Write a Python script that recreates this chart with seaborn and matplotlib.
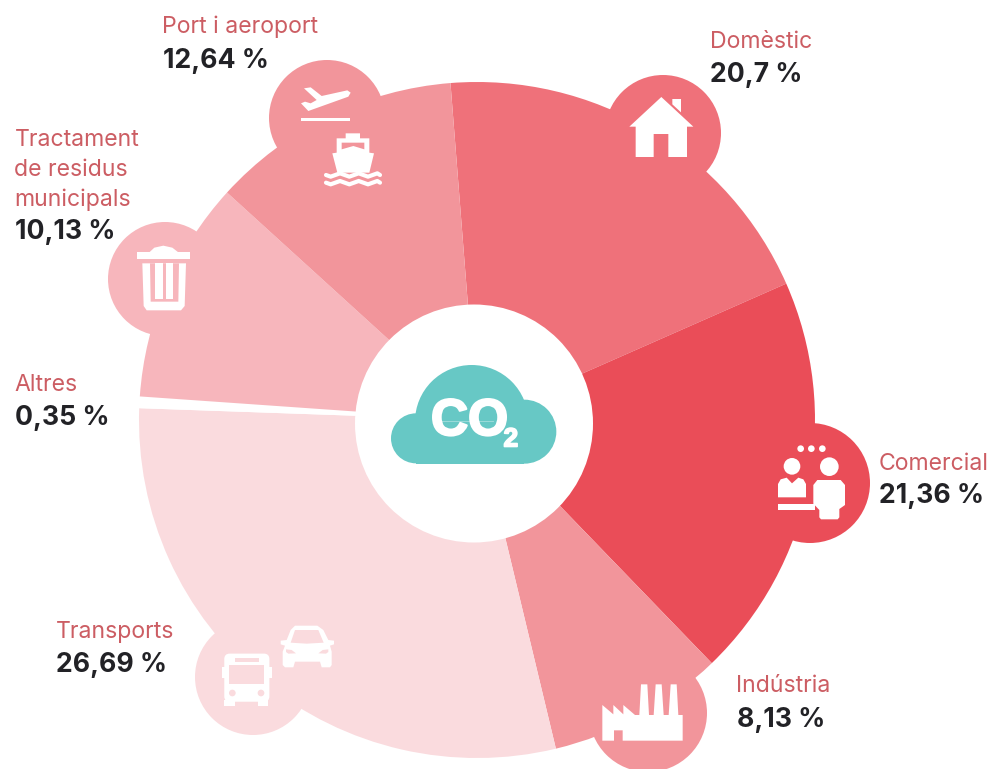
import matplotlib.patheffects as pe
import matplotlib.pyplot as plt
import seaborn as sns
from matplotlib.patches import Circle, FancyBboxPatch, Polygon, Wedge

# Data
categories = ["Domèstic", "Comercial", "Indústria", "Transports", "Altres", "Tractament\nde residus\nmunicipals", "Port i aeroport"]
printed_values = ["20,7 %", "21,36 %", "8,13 %", "26,69 %", "0,35 %", "10,13 %", "12,64 %"]
# the slices are not drawn to scale in the original, so these are the measured spans
slice_degrees = [70.7, 69.8, 30.5, 105.5, 2, 38.3, 43.2]
slice_colors = ["#EF717A", "#EA4D58", "#F2959B", "#FADBDE", "#FFFFFF", "#F7B6BC", "#F2959B"]

sns.set_theme(style="white")
plt.rcParams["font.family"] = ["Inter", "DejaVu Sans"]

W, H = 990, 769
fig = plt.figure(figsize=(W / 100, H / 100), dpi=100, facecolor="white")

# Pie
ax = fig.add_axes([0, 0, 1, 1])
ax.pie(
    slice_degrees,
    colors=sns.color_palette(slice_colors),
    startangle=94.5,
    counterclock=False,
    center=(477, H - 420),
    radius=338,
    wedgeprops={"linewidth": 0},
)
ax.set_xlim(0, W)
ax.set_ylim(0, H)
ax.axis("off")

# Overlay in image pixels, y going down
ov = fig.add_axes([0, 0, 1, 1], facecolor="none")
ov.set_xlim(0, W)
ov.set_ylim(H, 0)
ov.axis("off")


def poly(points, ox, oy, color="white", z=4):
    # points measured on a 3x crop with origin ox, oy
    ov.add_patch(Polygon([(ox + x / 3, oy + y / 3) for x, y in points], closed=True, fc=color, ec="none", zorder=z))


def rect(x0, y0, x1, y1, ox, oy, color="white", z=4):
    poly([(x0, y0), (x1, y0), (x1, y1), (x0, y1)], ox, oy, color, z)


def dot(x, y, r, ox, oy, color="white", z=4):
    ov.add_patch(Circle((ox + x / 3, oy + y / 3), r / 3, fc=color, ec="none", zorder=z))


# Icon bubbles
bubbles = [(663, 133, 58, 0), (810, 483, 60, 1), (648, 713, 59, 2), (253, 677, 58, 3), (165, 279, 57, 5), (327, 118, 58, 6)]
for bx, by, br, idx in bubbles:
    ov.add_patch(Circle((bx, by), br, fc=slice_colors[idx], ec="none", zorder=1))

# Centre
ov.add_patch(Circle((474, 423.5), 119, fc="white", ec="none", zorder=2))

# Cloud
teal = "#67C8C5"
cx, cy = 340, 300
dot(228, 415, 75, cx, cy, teal, 3)
dot(553, 395, 96, cx, cy, teal, 3)
ov.add_patch(Wedge((cx + 395 / 3, cy + 365 / 3), 170 / 3, 180, 360, fc=teal, ec="none", zorder=3))
rect(228, 365, 553, 491, cx, cy, teal, 3)
heavy = [pe.withStroke(linewidth=1.6, foreground="white")]
ov.text(431, 435, "CO", color="white", fontsize=37, fontweight="bold", family="Liberation Sans", va="baseline", ha="left", zorder=5, path_effects=heavy)
ov.text(503.5, 446.5, "2", color="white", fontsize=19, fontweight="bold", family="Liberation Sans", va="baseline", ha="left", zorder=6, path_effects=[pe.withStroke(linewidth=1.2, foreground="white")])

# House
ox, oy = 590, 60
poly([(118, 200), (214, 111), (310, 200), (291, 200), (291, 291), (235, 291), (235, 222), (191, 222), (191, 291), (137, 291), (137, 200)], ox, oy)
poly([(247, 117), (273, 117), (273, 157), (247, 133)], ox, oy)

# Meeting people
ox, oy = 740, 410
for x in (182, 214, 247):
    dot(x, 116, 10, ox, oy)
dot(156, 169, 25, ox, oy)
dot(268, 170, 28, ox, oy)
poly([(114, 262), (114, 222), (122, 208), (140, 203), (156, 220), (175, 203), (190, 208), (198, 222), (198, 262)], ox, oy)
rect(115, 281, 225, 301, ox, oy)
poly([(220, 225), (232, 210), (302, 210), (315, 225), (315, 285), (298, 297), (298, 322), (293, 328), (243, 328), (238, 322), (238, 300), (220, 281)], ox, oy)

# Factory
ox, oy = 570, 650
poly([(97, 272), (97, 165), (130, 193), (130, 165), (160, 193), (160, 165), (195, 195), (338, 195), (338, 272), (158, 272), (158, 241), (132, 241), (132, 272)], ox, oy)
poly([(213, 103), (232, 103), (237, 195), (208, 195)], ox, oy)
poly([(257, 103), (275, 103), (281, 195), (251, 195)], ox, oy)
poly([(302, 103), (320, 103), (325, 195), (296, 195)], ox, oy)

# Bus
ox, oy = 180, 610
pink = slice_colors[3]
ov.add_patch(FancyBboxPatch((ox + 137 / 3, oy + 135 / 3), 127 / 3, 136 / 3, boxstyle="round,pad=0,rounding_size=4", fc="white", ec="white", lw=2, zorder=4))
rect(126, 170, 136, 205, ox, oy)
rect(266, 170, 275, 205, ox, oy)
rect(133, 270, 165, 289, ox, oy)
rect(235, 270, 265, 289, ox, oy)
rect(148, 165, 253, 222, ox, oy, pink, 5)
rect(165, 143, 238, 155, ox, oy, pink, 5)
dot(157, 249, 10, ox, oy, pink, 5)
dot(243, 249, 10, ox, oy, pink, 5)

# Car
poly([(345, 47), (412, 47), (430, 60), (445, 90), (462, 92), (462, 103), (450, 107), (455, 125), (455, 165), (450, 172), (425, 172), (420, 155), (345, 155), (340, 172), (315, 172), (308, 165), (308, 125), (315, 107), (302, 103), (302, 92), (320, 90), (332, 60)], ox, oy)
poly([(345, 60), (415, 60), (431, 98), (380, 101), (332, 98)], ox, oy, pink, 5)
poly([(318, 118), (335, 120), (348, 130), (325, 131), (318, 126)], ox, oy, pink, 5)
poly([(445, 118), (428, 120), (415, 130), (438, 131), (445, 126)], ox, oy, pink, 5)

# Bin
ox, oy = 100, 50
bin_pink = slice_colors[5]
rect(112, 607, 270, 627, ox, oy)
poly([(148, 607), (163, 593), (190, 587), (217, 593), (235, 607)], ox, oy)
poly([(127, 640), (258, 640), (254, 768), (243, 781), (140, 781), (131, 768)], ox, oy)
poly([(150, 640), (237, 640), (235, 755), (152, 755)], ox, oy, bin_pink, 5)
rect(165, 640, 188, 747, ox, oy, "white", 6)
rect(197, 640, 220, 747, ox, oy, "white", 6)

# Plane
poly([(612, 115), (632, 112), (665, 138), (742, 121), (752, 128), (745, 140), (625, 183), (603, 160), (615, 155), (632, 160), (650, 150)], ox, oy)
rect(604, 203, 750, 214, ox, oy)

# Ship
poly([(737, 250), (780, 250), (780, 265), (808, 265), (808, 308), (822, 310), (808, 368), (712, 368), (697, 310), (710, 308), (710, 265), (737, 265)], ox, oy)
poly([(725, 278), (793, 278), (793, 298), (760, 288), (725, 298)], ox, oy, slice_colors[6], 5)
wave_x = [678, 692, 706, 720, 734, 748, 762, 776, 790, 804, 818, 832, 840]
wave_up = [0, 5, 0, -5, 0, 5, 0, -5, 0, 5, 0, -5, 0]
for wy in (375, 398):
    ov.plot([ox + x / 3 for x in wave_x], [oy + (wy + d) / 3 for d in wave_up], color="white", lw=3, zorder=4)

# Labels: x, baseline of first line, baseline of value
name_color = "#CC5D63"
value_color = "#222226"
label_pos = [(710, [48], 82), (879, [470], 503), (737, [692], 727), (56, [638], 672), (15, [146 + 245], 425), (15, [146, 176, 206], 239), (163, [33], 68)]
for name, value, (lx, bases, vy) in zip(categories, printed_values, label_pos):
    for line, by in zip(name.split("\n"), bases):
        ov.text(lx - 0.5, by, line, color=name_color, fontsize=16.6, va="baseline", ha="left", zorder=6)
    ov.text(lx, vy, value, color=value_color, fontsize=19.2, fontweight="bold", va="baseline", ha="left", zorder=6)

fig.savefig("out.png", dpi=100)
